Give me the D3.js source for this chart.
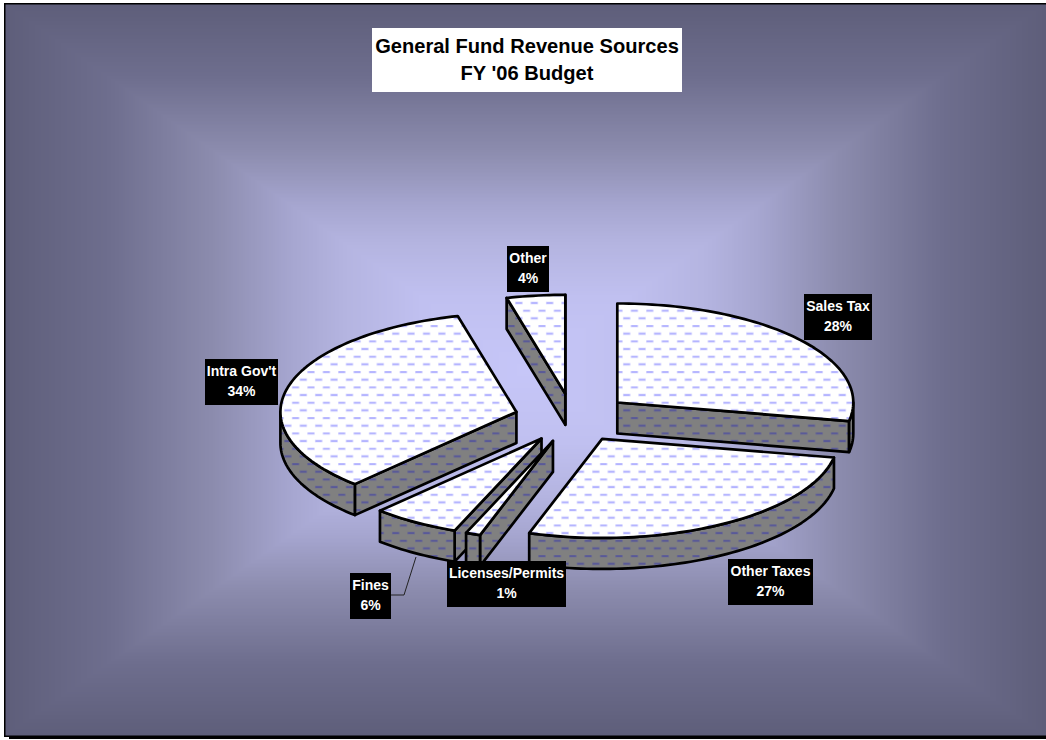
<!DOCTYPE html>
<html><head><meta charset="utf-8">
<script src="https://cdn.jsdelivr.net/npm/d3@7"></script>
<style>html,body{margin:0;padding:0;background:#fff}svg{display:block}text{font-family:"Liberation Sans",Arial,sans-serif;font-weight:bold}</style>
</head><body><div id="c"></div>
<script>
const categories=["Sales Tax","Other Taxes","Licenses/Permits","Fines","Intra Gov't","Other"];
const values=[28,27,1,6,34,4];
const titleLines=["General Fund Revenue Sources","FY '06 Budget"];

const W=1046,H=740,cx=572.6,cy=418,rx=236,ry=99,depth=31,explode=0.2458;
const frame={x0:5,y0:4,x1:1046,y1:736};
const labelBoxes={
 "Sales Tax":[804,294,68,46],"Other Taxes":[728,559,85,46],"Licenses/Permits":[447,561,119,46],
 "Fines":[350,573,41,46],"Intra Gov't":[205,359,73,46],"Other":[507,246,42,46]};

const svg=d3.select("#c").append("svg").attr("width",W).attr("height",H);
const defs=svg.append("defs");

// background: rectangular path gradient drawn as nested rectangles
const mx=(frame.x0+frame.x1)/2,my=(frame.y0+frame.y1)/2;
const bgColor=d3.scaleLinear()
 .domain([0,0.2,0.4,0.55,0.65,0.8,1])
 .range(["#5e5e7a","#6e6e8e","#8c8cae","#a6a6d0","#b4b4e0","#c0c0f0","#c6c6f8"]);
svg.append("rect").attr("x",9).attr("y",736).attr("width",W-9).attr("height",3).attr("fill","#000");
svg.append("g").attr("shape-rendering","crispEdges").selectAll("rect").data(d3.range(0,1,1/260)).join("rect")
 .attr("x",t=>frame.x0+t*(mx-frame.x0)).attr("y",t=>frame.y0+t*(my-frame.y0))
 .attr("width",t=>(1-t)*(frame.x1-frame.x0)).attr("height",t=>(1-t)*(frame.y1-frame.y0))
 .attr("fill",t=>bgColor(t));
svg.append("rect").attr("x",4).attr("y",3).attr("width",W-4).attr("height",1.5).attr("fill","#000");
svg.append("rect").attr("x",4).attr("y",3).attr("width",1.5).attr("height",734).attr("fill","#000");
svg.append("rect").attr("x",4).attr("y",735.5).attr("width",W-4).attr("height",1.5).attr("fill","#000");

// hatch
function hatch(id,bg,halo,fg){
 const p=defs.append("pattern").attr("id",id).attr("patternUnits","userSpaceOnUse")
  .attr("x",646).attr("y",325).attr("width",15.4).attr("height",15.34);
 p.append("rect").attr("width",15.4).attr("height",15.34).attr("fill",bg);
 [[0,0],[7.7,7.67]].forEach(o=>{
  p.append("rect").attr("x",o[0]).attr("y",o[1]-0.5).attr("width",7.6).attr("height",3).attr("fill",halo);
  p.append("rect").attr("x",o[0]+0.5).attr("y",o[1]+0.2).attr("width",6.6).attr("height",1.6).attr("fill",fg);
 });
}
hatch("topH","#fff","#e8e8ff","#acacff");
hatch("sideH","#808080","#74748a","#55559a");

const arcs=d3.pie().sort(null).startAngle(0).endAngle(2*Math.PI)(values);
const line=d3.line();
const pt=(c,a,dz=0)=>[c[0]+rx*Math.sin(a),c[1]-ry*Math.cos(a)+dz];
const sample=(c,a0,a1,dz=0)=>d3.range(0,1.0001,1/Math.max(2,Math.ceil(Math.abs(a1-a0)*40))).map(t=>pt(c,a0+(a1-a0)*t,dz));
const slices=arcs.map((d,i)=>{
 const m=(d.startAngle+d.endAngle)/2;
 return {d,name:categories[i],apex:[cx+rx*explode*Math.sin(m),cy-ry*explode*Math.cos(m)]};
});
const order=["Other","Sales Tax","Intra Gov't","Fines","Licenses/Permits","Other Taxes"];
const pie=svg.append("g").attr("stroke","#000").attr("stroke-width",2.7).attr("stroke-linejoin","round");
order.map(n=>slices.find(s=>s.name===n)).forEach(s=>{
 const a0=s.d.startAngle,a1=s.d.endAngle,c=s.apex;
 const g=pie.append("g");
 const wall=pts=>g.append("path").attr("d",line(pts)+"Z").attr("fill","url(#sideH)");
 if(Math.sin(a0)<0){wall([c,pt(c,a0),pt(c,a0,depth),[c[0],c[1]+depth]]);}
 if(Math.sin(a1)>0){wall([c,pt(c,a1),pt(c,a1,depth),[c[0],c[1]+depth]]);}
 const lo=Math.max(a0,Math.PI/2),hi=Math.min(a1,3*Math.PI/2);
 if(hi>lo){wall(sample(c,lo,hi).concat(sample(c,hi,lo,depth)));}
 g.append("path").attr("d",line([c].concat(sample(c,a0,a1)))+"Z").attr("fill","url(#topH)");
});

// title
svg.append("rect").attr("x",372).attr("y",28).attr("width",310).attr("height",64).attr("fill","#fff");
svg.append("g").selectAll("text").data(titleLines).join("text")
 .attr("x",527).attr("y",(d,i)=>52.5+i*27).attr("text-anchor","middle").attr("font-size",20.1).attr("fill","#000").text(d=>d);

// leader for Fines
svg.append("path").attr("d",line([[391,595],[404,595],[416,557]])).attr("fill","none").attr("stroke","#222").attr("stroke-width",1);

// labels
const lab=svg.append("g").selectAll("g").data(slices).join("g");
lab.append("rect").attr("x",s=>labelBoxes[s.name][0]).attr("y",s=>labelBoxes[s.name][1])
 .attr("width",s=>labelBoxes[s.name][2]).attr("height",s=>labelBoxes[s.name][3]).attr("fill","#000");
const lt=(s)=>labelBoxes[s.name];
lab.append("text").attr("x",s=>lt(s)[0]+lt(s)[2]/2).attr("y",s=>lt(s)[1]+17).attr("text-anchor","middle")
 .attr("font-size",14).attr("fill","#fff").text(s=>s.name);
lab.append("text").attr("x",s=>lt(s)[0]+lt(s)[2]/2).attr("y",s=>lt(s)[1]+36.5).attr("text-anchor","middle")
 .attr("font-size",14).attr("fill","#fff").text(s=>s.d.value+"%");
</script></body></html>
